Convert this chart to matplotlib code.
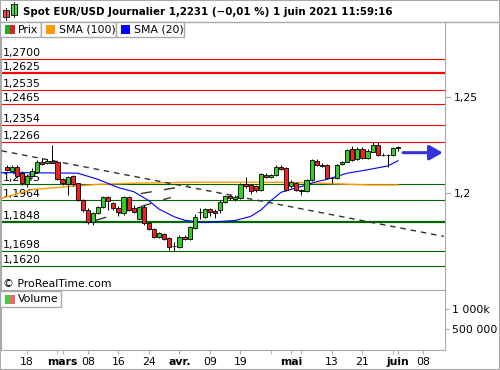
import matplotlib
matplotlib.use('Agg')
import matplotlib.pyplot as plt
from matplotlib.patches import Rectangle
from matplotlib.lines import Line2D

# trading day index (0 = 18 Feb 2021), first candle 12 Feb, last 1 June
days = list(range(-4, 74))

opens = [
    1.2135, 1.2115, 1.2135, 1.2104,
    1.2047, 1.2089, 1.2109, 1.2161, 1.2156, 1.2167, 1.2161, 1.2073, 1.2047, 1.2089,
    1.2052, 1.1964, 1.1911, 1.1849, 1.1896, 1.1927, 1.1979, 1.1948, 1.1922, 1.1896,
    1.1979, 1.1922, 1.1865, 1.1927, 1.1844, 1.1813, 1.1771, 1.1786, 1.1766, 1.1724,
    1.1719, 1.1771, 1.1760, 1.1818, 1.1903, 1.1875, 1.1917, 1.1906, 1.1911, 1.1953,
    1.1984, 1.1969, 1.1974, 1.2047, 1.2042, 1.2036, 1.2016, 1.2094, 1.2083, 1.2094,
    1.2135, 1.2130, 1.2036, 1.2052, 1.2016, 1.2010, 1.2068, 1.2167, 1.2146, 1.2146,
    1.2078, 1.2078, 1.2151, 1.2161, 1.2229, 1.2177, 1.2229, 1.2182, 1.2214, 1.2250,
    1.2198, 1.2196, 1.2198, 1.2238]
highs = [
    1.2146, 1.2146, 1.2146, 1.2115,
    1.2099, 1.2130, 1.2172, 1.2182, 1.2177, 1.2250, 1.2167, 1.2078, 1.2089, 1.2094,
    1.2052, 1.1969, 1.1922, 1.1901, 1.1932, 1.1984, 1.1984, 1.1953, 1.1932, 1.1984,
    1.1984, 1.1937, 1.1932, 1.1937, 1.1849, 1.1818, 1.1797, 1.1792, 1.1771, 1.1745,
    1.1781, 1.1781, 1.1828, 1.1891, 1.1922, 1.1922, 1.1922, 1.1917, 1.1964, 1.1990,
    1.1990, 1.1990, 1.2052, 1.2083, 1.2047, 1.2042, 1.2104, 1.2104, 1.2099, 1.2146,
    1.2146, 1.2135, 1.2068, 1.2057, 1.2021, 1.2073, 1.2177, 1.2177, 1.2156, 1.2151,
    1.2083, 1.2151, 1.2167, 1.2229, 1.2245, 1.2240, 1.2240, 1.2229, 1.2266, 1.2266,
    1.2208, 1.2203, 1.2240, 1.2245]
lows = [
    1.2115, 1.2109, 1.2078, 1.2042,
    1.2031, 1.2083, 1.2104, 1.2146, 1.2151, 1.2156, 1.2068, 1.2042, 1.1990, 1.2036,
    1.1958, 1.1901, 1.1839, 1.1833, 1.1891, 1.1922, 1.1911, 1.1911, 1.1880, 1.1885,
    1.1906, 1.1896, 1.1859, 1.1833, 1.1807, 1.1766, 1.1766, 1.1755, 1.1703, 1.1698,
    1.1714, 1.1755, 1.1755, 1.1813, 1.1862, 1.1870, 1.1880, 1.1870, 1.1896, 1.1948,
    1.1964, 1.1958, 1.1969, 1.2026, 1.1995, 1.2005, 1.2010, 1.2078, 1.2078, 1.2089,
    1.2120, 1.2010, 1.2026, 1.2010, 1.1990, 1.2005, 1.2063, 1.2141, 1.2135, 1.2073,
    1.2052, 1.2073, 1.2146, 1.2161, 1.2167, 1.2172, 1.2177, 1.2177, 1.2214, 1.2193,
    1.2193, 1.2135, 1.2193, 1.2219]
closes = [
    1.2120, 1.2135, 1.2089, 1.2052,
    1.2089, 1.2115, 1.2161, 1.2151, 1.2167, 1.2156, 1.2073, 1.2052, 1.2083, 1.2047,
    1.1964, 1.1911, 1.1849, 1.1896, 1.1927, 1.1979, 1.1958, 1.1922, 1.1901, 1.1979,
    1.1911, 1.1901, 1.1927, 1.1844, 1.1813, 1.1771, 1.1792, 1.1760, 1.1719, 1.1722,
    1.1771, 1.1760, 1.1823, 1.1875, 1.1901, 1.1917, 1.1901, 1.1896, 1.1953, 1.1984,
    1.1974, 1.1979, 1.2047, 1.2036, 1.2010, 1.2016, 1.2099, 1.2083, 1.2094, 1.2135,
    1.2125, 1.2016, 1.2057, 1.2016, 1.2010, 1.2068, 1.2172, 1.2146, 1.2143, 1.2078,
    1.2076, 1.2146, 1.2161, 1.2224, 1.2172, 1.2229, 1.2182, 1.2219, 1.2250, 1.2198,
    1.2196, 1.2198, 1.2234, 1.2236]

# moving averages
sma20_x = [-5, 0, 10, 14, 18, 21, 24, 26, 29, 31, 35, 41, 44, 46, 48, 50, 54, 57, 59, 63, 67, 71, 73]
sma20_y = [1.2106, 1.2106, 1.2103, 1.2071, 1.2028, 1.2007, 1.1960, 1.1916, 1.1876, 1.1858, 1.1846,
           1.1857, 1.1878, 1.1911, 1.1960, 1.2004, 1.2034, 1.2059, 1.2071, 1.2103, 1.2121, 1.2141, 1.2168]
sma100_x = [-5, 1, 8, 14, 21, 28, 34, 44, 53, 62, 67, 73]
sma100_y = [1.1972, 1.2018, 1.2033, 1.2045, 1.2051, 1.2054, 1.2056, 1.2056, 1.2055, 1.2047, 1.2042, 1.2042]

# support / resistance levels
red_levels = [1.2700, 1.2625, 1.2535, 1.2465, 1.2354, 1.2266]
green_levels = [1.2045, 1.1964, 1.1848, 1.1698, 1.1620]
thick_levels = [1.2625, 1.1848]

trend_x = [-5, 82]
trend_y = [1.2220, 1.1774]
chan1_x = [13.5, 28.3]
chan1_y = [1.1857, 1.1977]
chan2_x = [22.4, 31.8]
chan2_y = [1.1997, 1.2039]
arrow_x = [74, 81.8]
arrow_y = 1.2210

tick_pos = [0, 7, 12, 18, 24, 30, 36, 42, 52, 60, 66, 73, 78]
tick_labels = ['18', 'mars', '08', '16', '24', 'avr.', '09', '19', 'mai', '13', '21', 'juin', '08']
month_labels = ['mars', 'avr.', 'mai', 'juin']
minor_pos = [6, 48, 54, 72]

W, H = 500, 370
GREY = '#aaaaaa'
UP = '#33cc22'
DOWN = '#ee2222'
FS = 7.8


def fx(x):
    return x / W


def fy(y):
    return 1 - y / H


fig = plt.figure(figsize=(5, 3.7), dpi=100)
fig.patch.set_facecolor('white')

# price panel
ax = fig.add_axes([fx(1), fy(290), fx(444), (290 - 22) / H])
ax.set_xlim(-5.1, 82.24)
ax.set_ylim(1.14948, 1.28906)

for lv in red_levels:
    ax.axhline(lv, color='#ff0000', lw=1.6 if lv in thick_levels else 0.8, zorder=2)
for lv in green_levels:
    ax.axhline(lv, color='#006600', lw=1.6 if lv in thick_levels else 0.8, zorder=2)
for lv in red_levels + green_levels:
    ax.annotate(f'{lv:.4f}'.replace('.', ','), xy=(0, lv), xycoords=('axes fraction', 'data'),
                xytext=(2, 1), textcoords='offset pixels', va='bottom', ha='left',
                fontsize=FS, zorder=1)

ax.plot(sma100_x, sma100_y, color='#ff9900', lw=1.0, zorder=3)
ax.plot(sma20_x, sma20_y, color='#0000ff', lw=0.8, zorder=3)

ax.plot(trend_x, trend_y, color='#333333', lw=1.0, dashes=(4, 3.5), zorder=3)
ax.plot(chan1_x, chan1_y, color='#333333', lw=1.0, dashes=(8, 9), zorder=3)
ax.plot(chan2_x, chan2_y, color='#333333', lw=1.0, dashes=(8, 9), zorder=3)

# candles
colors = [UP if c >= o else DOWN for o, c in zip(opens, closes)]
ax.vlines(days, lows, highs, color='black', lw=0.7, zorder=4)
bottoms = [min(o, c) for o, c in zip(opens, closes)]
heights = [abs(c - o) for o, c in zip(opens, closes)]
ax.bar(days, heights, bottom=bottoms, width=0.82, color=colors, edgecolor='black',
       linewidth=0.6, zorder=5)

ax.annotate('', xy=(arrow_x[1], arrow_y), xytext=(arrow_x[0], arrow_y),
            arrowprops=dict(arrowstyle='-|>,head_length=0.8,head_width=0.45',
                            color='#3333dd', lw=2.2, shrinkA=0, shrinkB=0), zorder=6)

ax.yaxis.tick_right()
ax.set_yticks([1.2, 1.25])
ax.set_yticklabels(['1,2', '1,25'])
ax.set_xticks([])
ax.tick_params(axis='y', length=4, color=GREY, labelsize=FS, pad=2)
for s in ax.spines.values():
    s.set_color(GREY)
ax.spines['top'].set_visible(False)

fig.text(fx(3), fy(284), '\u00a9 ProRealTime.com', fontsize=FS, va='center')

# volume panel (empty)
vax = fig.add_axes([fx(1), fy(350), fx(444), 60 / H])
vax.set_xlim(-5.1, 82.24)
vax.set_ylim(-25000, 1475000)
vax.yaxis.tick_right()
vax.set_yticks([500000, 1000000])
vax.set_yticklabels(['500 000', '1 000k'])
vax.set_xticks(tick_pos)
vax.set_xticklabels(tick_labels)
vax.set_xticks(minor_pos, minor=True)
vax.tick_params(axis='both', which='both', length=3, color=GREY, labelsize=FS, pad=2)
for lab in vax.get_xticklabels():
    if lab.get_text() in month_labels:
        lab.set_fontweight('bold')
for s in vax.spines.values():
    s.set_color(GREY)

# title bar
fig.add_artist(Line2D([0, 1], [fy(22), fy(22)], color=GREY, lw=1, transform=fig.transFigure))
fig.add_artist(Rectangle((0, 0), 1, 1, fill=False, ec=GREY, lw=1.5, transform=fig.transFigure))
fig.add_artist(Line2D([fx(6), fx(6)], [fy(8), fy(20)], color='black', lw=0.6, transform=fig.transFigure))
fig.add_artist(Rectangle((fx(3), fy(17)), fx(6), 7 / H, fc='#ee5555', ec='black', lw=0.6,
                         transform=fig.transFigure))
fig.add_artist(Line2D([fx(14), fx(14)], [fy(2), fy(17)], color='black', lw=0.6, transform=fig.transFigure))
fig.add_artist(Rectangle((fx(11), fy(15)), fx(6), 11 / H, fc='#44dd44', ec='black', lw=0.6,
                         transform=fig.transFigure))
fig.text(fx(23), fy(12), 'Spot EUR/USD Journalier 1,2231 (\u22120,01 %) 1 juin 2021 11:59:16',
         fontsize=7.4, fontweight='bold', va='center')

# legend row
legend_items = [('Prix', 0, 41, None), ('SMA (100)', 41, 116, '#ff9900'), ('SMA (20)', 116, 184, '#0000ff')]
for name, x0, x1, col in legend_items:
    fig.add_artist(Rectangle((fx(x0), fy(37)), fx(x1 - x0), 15 / H, fc='white', ec=GREY, lw=1,
                             transform=fig.transFigure, zorder=10))
    if col is None:
        fig.add_artist(Rectangle((fx(x0 + 5), fy(34)), fx(5), 9 / H, fc='#22aa22', ec='none',
                                 transform=fig.transFigure, zorder=11))
        fig.add_artist(Rectangle((fx(x0 + 10), fy(34)), fx(5), 9 / H, fc='#dd2222', ec='none',
                                 transform=fig.transFigure, zorder=11))
    else:
        fig.add_artist(Rectangle((fx(x0 + 5), fy(34)), fx(9), 9 / H, fc=col, ec='none',
                                 transform=fig.transFigure, zorder=11))
    fig.text(fx(x0 + 18), fy(30), name, fontsize=FS, va='center', zorder=12)

# volume legend
fig.add_artist(Rectangle((fx(0), fy(307)), fx(61), 16 / H, fc='white', ec=GREY, lw=1,
                         transform=fig.transFigure, zorder=10))
fig.add_artist(Rectangle((fx(5), fy(304)), fx(5), 9 / H, fc='#44cc44', ec='none',
                         transform=fig.transFigure, zorder=11))
fig.add_artist(Rectangle((fx(10), fy(304)), fx(5), 9 / H, fc='#ee6666', ec='none',
                         transform=fig.transFigure, zorder=11))
fig.text(fx(18), fy(299), 'Volume', fontsize=FS, va='center', zorder=12)

fig.savefig('out.png', dpi=100)
